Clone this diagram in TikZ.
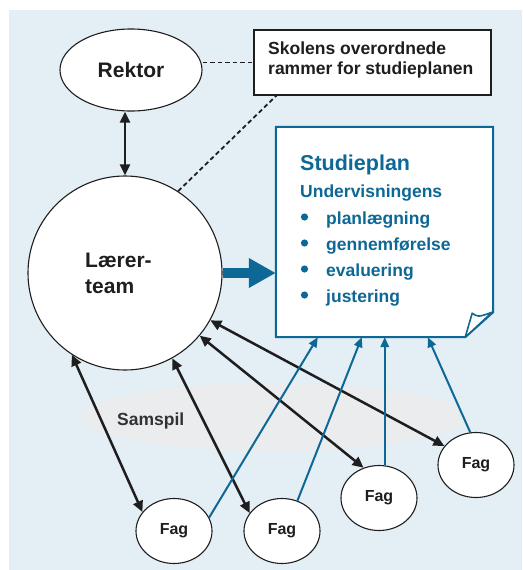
\documentclass[tikz,border=0pt]{standalone}
\usepackage{fontspec}
\setmainfont{Liberation Sans}
\usetikzlibrary{arrows.meta,shapes.geometric,calc}
\definecolor{bgblue}{RGB}{227,238,245}
\definecolor{planblue}{RGB}{14,104,150}
\definecolor{samgray}{RGB}{234,236,237}
\definecolor{darktext}{RGB}{30,30,30}
\begin{document}
\begin{tikzpicture}[x=1pt,y=-1pt,
  oval/.style={ellipse,draw=darktext,line width=1.1pt,fill=white,inner sep=0pt},
  fagnode/.style={oval,minimum width=76pt,minimum height=65pt,font=\bfseries\fontsize{16}{19}\selectfont,text=darktext},
  dbl/.style={line width=2.5pt,draw=darktext,{Triangle[length=11pt,width=10pt]}-{Triangle[length=11pt,width=10pt]}},
  barrow/.style={line width=2pt,draw=planblue,-{Triangle[length=10pt,width=8.5pt]}},
  dashline/.style={line width=1.8pt,draw=darktext,dash pattern=on 4.5pt off 3pt},
  btxt/.style={anchor=base west,inner sep=0pt,text=darktext},
  ptxt/.style={anchor=base west,inner sep=0pt,text=planblue,font=\bfseries\fontsize{17.5}{21}\selectfont}]

\useasboundingbox (0,0) rectangle (522,570);
\fill[bgblue] (9,10) rectangle (522,570);

% Samspil background ellipse
\node[ellipse,fill=samgray,minimum width=384pt,minimum height=68pt,inner sep=0pt] (samspil) at (273,417) {};
\node[btxt,font=\bfseries\fontsize{17.5}{21}\selectfont,text={rgb,255:red,50;green,50;blue,50}] (samspilt) at (117,425) {Samspil};

% Rektor
\node[oval,minimum width=142pt,minimum height=82pt,font=\bfseries\fontsize{21}{25}\selectfont,text=darktext] (rektor) at (131,70) {Rektor};

% Skolens box
\node[draw=darktext,fill=white,line width=1.1pt,minimum width=237pt,minimum height=65pt,inner sep=0pt] (skol) at (372.5,62.5) {};
\node[btxt,font=\bfseries\fontsize{17.5}{21}\selectfont] (skolt1) at (268,54) {Skolens overordnede};
\node[btxt,font=\bfseries\fontsize{17.5}{21}\selectfont] (skolt2) at (268,74) {rammer for studieplanen};

% Laerer-team
\node[circle,draw=darktext,fill=white,line width=1.1pt,minimum size=194pt,inner sep=0pt] (team) at (125,273) {};
\node[btxt,font=\bfseries\fontsize{21}{25}\selectfont] (teamt1) at (85,267) {Lærer-};
\node[btxt,font=\bfseries\fontsize{21}{25}\selectfont] (teamt2) at (85,293) {team};

% Studieplan sheet
\node[minimum width=217pt,minimum height=210pt,inner sep=0pt] (plan) at (384.5,232) {};
\draw[planblue,fill=white,line width=2pt,line join=miter]
  (plan.north west) -- (plan.north east) -- ([yshift=25pt]plan.south east)
  -- ([xshift=-28pt]plan.south east) -- (plan.south west) -- cycle;
\draw[planblue,fill=white,line width=1.6pt,line join=round]
  ([xshift=-28pt]plan.south east) -- ([xshift=-21pt,yshift=24pt]plan.south east)
  .. controls ([xshift=-15pt,yshift=20pt]plan.south east) .. ([xshift=-1pt,yshift=25pt]plan.south east)
  -- cycle;
\node[ptxt,font=\bfseries\fontsize{21.5}{25}\selectfont] (pt0) at (300,170) {Studieplan};
\node[ptxt] (pt1) at (300,197) {Undervisningens};
\node[ptxt] (pt2) at (326,224) {planlægning};
\node[ptxt] (pt3) at (326,250) {gennemførelse};
\node[ptxt] (pt4) at (326,276) {evaluering};
\node[ptxt] (pt5) at (326,302) {justering};
\foreach \yy in {217,243,269,295} \fill[planblue] (304.5,\yy) circle (3.6pt);

% Fag nodes
\node[fagnode] (fag1) at (174,531) {Fag};
\node[fagnode] (fag2) at (282,531) {Fag};
\node[fagnode] (fag3) at (379,498) {Fag};
\node[fagnode] (fag4) at (476,465) {Fag};

% connectors
\draw[dashline] (rektor.east |- skol.west) -- (skol.west);
\draw[dashline] (team.57) -- ([xshift=23pt]skol.south west);
\draw[dbl] (team.north) -- (team.north |- rektor.south);
\draw[planblue,line width=10pt,-{Triangle[length=27pt,width=28pt]}] (team.east) -- (team.east -| plan.west);

\draw[dbl] (team.237) -- (fag1.149);
\draw[dbl] (team.-61) -- (fag2.151);
\draw[dbl] (team.-40) -- (fag3.117);
\draw[dbl] (team.-29) -- (fag4.149);

\draw[barrow] (fag1.21) -- ([xshift=42pt]plan.south west);
\draw[barrow] (fag2.63) -- ([xshift=86pt]plan.south west);
\draw[barrow] (fag3.80) -- (fag3.80 |- plan.south);
\draw[barrow] (fag4.100) -- ([xshift=152pt]plan.south west);
\end{tikzpicture}
\end{document}
